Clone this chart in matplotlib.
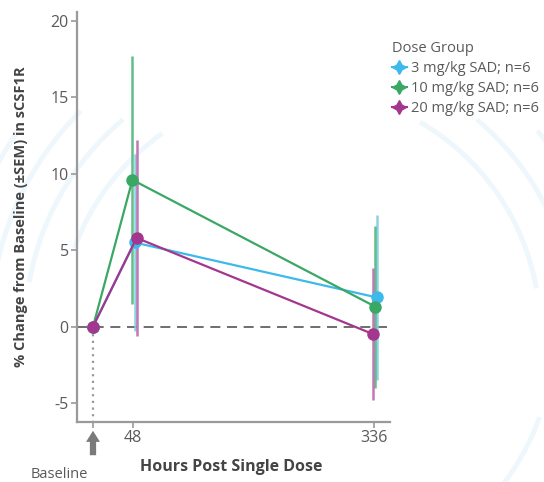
import numpy as np
import matplotlib
matplotlib.use("Agg")
import matplotlib.pyplot as plt
from matplotlib.lines import Line2D
from matplotlib.patches import Arc

# Mean % change (and SEM) in sCSF1R by dose group
hours = [0, 48, 336]
groups = ["3 mg/kg SAD; n=6", "10 mg/kg SAD; n=6", "20 mg/kg SAD; n=6"]
mean_3 = [0.0, 5.5, 1.9]
sem_3 = [0.0, 5.8, 5.4]
mean_10 = [0.0, 9.6, 1.3]
sem_10 = [0.0, 8.1, 5.3]
mean_20 = [0.0, 5.8, -0.5]
sem_20 = [0.0, 6.4, 4.3]

colors = ["#3db9ea", "#3aa865", "#a4368f"]
err_colors = ["#7fcfe0", "#52b67c", "#bb6aac"]
# small horizontal dodge (hours) so the error bars don't sit on top of each other
dodge = [[0, 1.5, 3.0], [0, -1.0, 1.0], [0, 4.0, -1.5]]

plt.rcParams.update({
    "font.family": ["Open Sans", "DejaVu Sans"],
    "axes.spines.top": False,
    "axes.spines.right": False,
})

fig = plt.figure(figsize=(5.44, 4.82), dpi=100)

# faint decorative arcs behind the chart (pixel coordinates)
bg = fig.add_axes([0, 0, 1, 1], zorder=-5)
bg.set_xlim(0, 544)
bg.set_ylim(482, 0)
bg.axis("off")
arc_segments = [(240, 200, 235), (240, 300, 350), (275, 190, 230), (275, 310, 355),
                (310, 185, 225), (310, 320, 360), (345, 180, 215), (345, 0, 25),
                (380, 190, 215), (380, 330, 360), (255, 20, 40), (290, 15, 35)]
for r, t1, t2 in arc_segments:
    bg.add_patch(Arc((300, 330), 2 * r, 2 * r, theta1=t1, theta2=t2,
                     color="#eef7fc", lw=3.5))

ax = fig.add_axes([0.1415, 0.1245, 0.576, 0.851])
ax.patch.set_alpha(0)

series = [(mean_3, sem_3), (mean_10, sem_10), (mean_20, sem_20)]
for i, (m, s) in enumerate(series):
    x = np.array(hours) + np.array(dodge[i])
    ax.errorbar(x[1:], m[1:], yerr=s[1:], fmt="none", ecolor=err_colors[i],
                elinewidth=1.8, capsize=0, alpha=0.9, zorder=2)
    ax.plot(x, m, color=colors[i], lw=1.6, marker="o", markersize=8, zorder=3)

ax.axhline(0, color="#555555", lw=1.2, ls=(0, (6, 4)), zorder=1)
ax.plot([0, 0], [-6.3, 0], color="#9a9a9a", lw=1.6, ls=(0, (1, 2)), zorder=1)

ax.set_xlim(-19.2, 355)
ax.set_ylim(-6.25, 20.6)
ax.set_xticks([0, 48, 336])
ax.set_xticklabels(["", "48", "336"])
ax.set_yticks([-5, 0, 5, 10, 15, 20])
ax.set_yticklabels(["-5", "0", "5", "10", "15", "20"])
for sp in ["left", "bottom"]:
    ax.spines[sp].set_color("#9a9a9a")
    ax.spines[sp].set_linewidth(1.6)
ax.tick_params(colors="#9a9a9a", labelcolor="#5a5a5a", labelsize=11.5, length=4,
               width=1.2, pad=2)

ax.set_ylabel("% Change from Baseline (\u00b1SEM) in sCSF1R", fontsize=10.5,
              fontweight="bold", color="#444444", labelpad=16)
fig.text(231 / 544, 1 - 467 / 482, "Hours Post Single Dose", ha="center", va="center",
         fontsize=11.5, fontweight="bold", color="#444444")

# baseline arrow under x = 0
bg.annotate("", xy=(93, 428), xytext=(93, 458),
            arrowprops=dict(arrowstyle="simple,head_width=1.0,head_length=0.8,tail_width=0.45",
                            color="#7a7a7a", lw=0))
fig.text(59 / 544, 1 - 474 / 482, "Baseline", ha="center", va="center",
         fontsize=10.5, color="#5a5a5a")

handles = [Line2D([], [], color=c, lw=1.5, marker=(4, 1, 0), markersize=10)
           for c in colors]
leg = fig.legend(handles, groups, title="Dose Group", loc="upper left",
                 bbox_to_anchor=(379 / 544, 1 - 28 / 482), frameon=False,
                 fontsize=10.5, title_fontsize=10.5, handlelength=1.0,
                 handletextpad=0.3, labelspacing=0.35, alignment="left")
for t in leg.get_texts():
    t.set_color("#5a5a5a")
leg.get_title().set_color("#5a5a5a")

fig.savefig("out.png", dpi=100)
